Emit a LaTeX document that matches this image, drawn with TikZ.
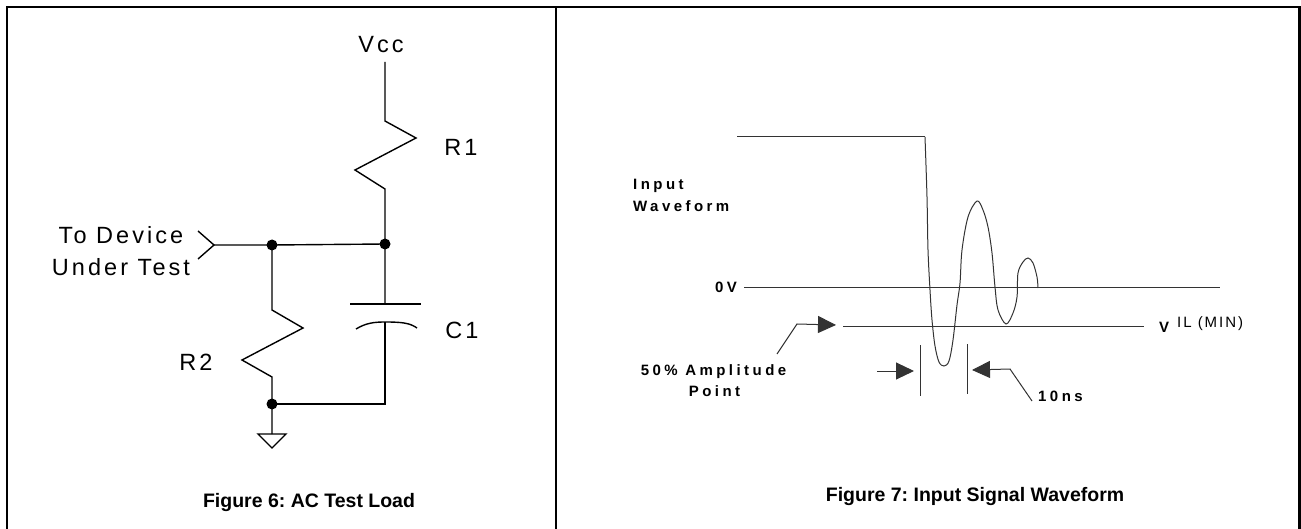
\documentclass[tikz,border=0pt]{standalone}
\usepackage{fontspec}
\setmainfont{Liberation Sans}
\newfontfamily\partfont[LetterSpace=13]{Liberation Sans}
\newfontfamily\tagfont[LetterSpace=23]{Liberation Sans}
\usetikzlibrary{arrows.meta}
\frenchspacing
\tikzset{wire/.style={line width=1.4pt}}
\tikzset{trace/.style={line width=1pt,black!80}}
\tikzset{junction/.style={circle,fill,inner sep=0pt,minimum size=11pt}}
\tikzset{partname/.style={font=\partfont\fontsize{23.5}{28}\selectfont,inner sep=0pt}}
\tikzset{tagname/.style={font=\tagfont\bfseries\fontsize{15}{18}\selectfont,inner sep=0pt}}
\tikzset{caption/.style={font=\bfseries\fontsize{19.5}{23}\selectfont,inner sep=0pt}}
\tikzset{>={Triangle[length=18pt,width=17pt]}}

\begin{document}
\begin{tikzpicture}[x={(1pt,0pt)},y={(0pt,-1pt)}]
  \useasboundingbox (0,0) rectangle (1301,529);
  \draw[line width=2.4pt] (7,529) -- (7,7) -- (1299.5,7) -- (1299.5,529);
  \draw[line width=2.4pt] (556,7) -- (556,529);

  \foreach \n/\x/\y in {vcc/385/62, r1t/385/121, r1b/385/189,
      c1t/385/304, c1l/350/304, c1r/421/304, c1b/385/322, cbot/385/404,
      dut/214/245, r2t/272/310, r2b/272/377, gnd/272/434}
    \coordinate (\n) at (\x,\y);
  \foreach \n/\x/\y in {ja/385/244, jb/272/245, jc/272/404}
    \node[junction] (\n) at (\x,\y) {};
  \draw[wire] (vcc) -- (r1t) -- ++(31,17) -- ++(-61,32) -- (r1b) -- (ja.center) -- (c1t);
  \draw[wire] (c1l) -- (c1r);
  \draw[wire] (356,329) .. controls (366,323) and (374,322) .. (c1b)
    .. controls (402,322) and (410,323) .. (417,328);
  \draw[wire] (c1b) -- (cbot) -- (jc.center);
  \draw[wire] (198,231) -- (dut) -- (198,259);
  \draw[wire] (dut) -- (jb.center) -- (ja.center);
  \draw[wire] (jb.center) -- (r2t) -- ++(31,18) -- ++(-61,32) -- (r2b) -- (jc.center) -- (gnd);
  \draw[wire] (gnd) -- ++(-14,0) -- ++(14,14) -- ++(14,-14) -- cycle;
  \foreach \n/\x/\y/\t in {vcclbl/381/53/Vcc, r1lbl/461/156/R1, c1lbl/462/338/C1,
      r2lbl/196/370/R2, dutlbl/121/243.6/To Device, dutlbl2/121/276/Under Test}
    \node[partname,anchor=base] (\n) at (\x,\y) {\t};
  \node[caption,anchor=base] (fig6) at (309,507) {Figure 6: AC Test Load};

  \draw[trace] (737,137) -- (925,137);
  \draw[trace] plot[smooth,tension=0.55] coordinates {
      (925,137) (927,197) (928,250) (930,290) (932,320) (935,346) (939,362)
      (944,366) (949,361) (953,340) (957,305) (960,283) (962,250) (968,217)
      (977,201) (983,210) (988,227) (992,253) (995,287) (998,310) (1006,324)
      (1013,313) (1017,297) (1018,273) (1023,262) (1028,258) (1033,263)
      (1037,277) (1038,288) };
  \draw[trace] (744,288) -- (1220,288);
  \draw[trace] (843,326) -- (1144,326);
  \foreach \n/\x/\y/\t in {inlbl/633/189.6/Input, wflbl/633/211.5/Waveform,
      nslbl/1038/401/10ns}
    \node[tagname,anchor=base west] (\n) at (\x,\y) {\t};
  \node[tagname,anchor=base east] (zerolbl) at (737,292.5) {0V};
  \node[tagname,anchor=base] (amplbl) at (713.5,375.7) {50\% Amplitude};
  \node[tagname,anchor=base] (ptlbl) at (714.5,396) {Point};
  \node[font=\bfseries\fontsize{15}{18}\selectfont,inner sep=0pt,anchor=base west] (vsym) at (1159,332) {V};
  \node[font=\partfont\fontsize{15}{18}\selectfont,inner sep=0pt,anchor=base west] (ilmin) at (1177,327) {IL (MIN)};
  \foreach \n/\x/\y in {amp0/777/354, amp1/797/324, amptip/836/325,
      lft0/877/371, lfttip/914/371, ns0/1032/401, ns1/1010/369, nstip/972/370,
      tka/920/345, tkb/920/396, tkc/967/344, tkd/967/394}
    \coordinate (\n) at (\x,\y);
  \draw[trace,->] (amp0) -- (amp1) -- (amptip);
  \draw[trace,->] (lft0) -- (lfttip);
  \draw[trace,->] (ns0) -- (ns1) -- (nstip);
  \draw[trace] (tka) -- (tkb);
  \draw[trace] (tkc) -- (tkd);
  \node[caption,anchor=base] (fig7) at (975,501.7) {Figure 7: Input Signal Waveform};
\end{tikzpicture}
\end{document}
